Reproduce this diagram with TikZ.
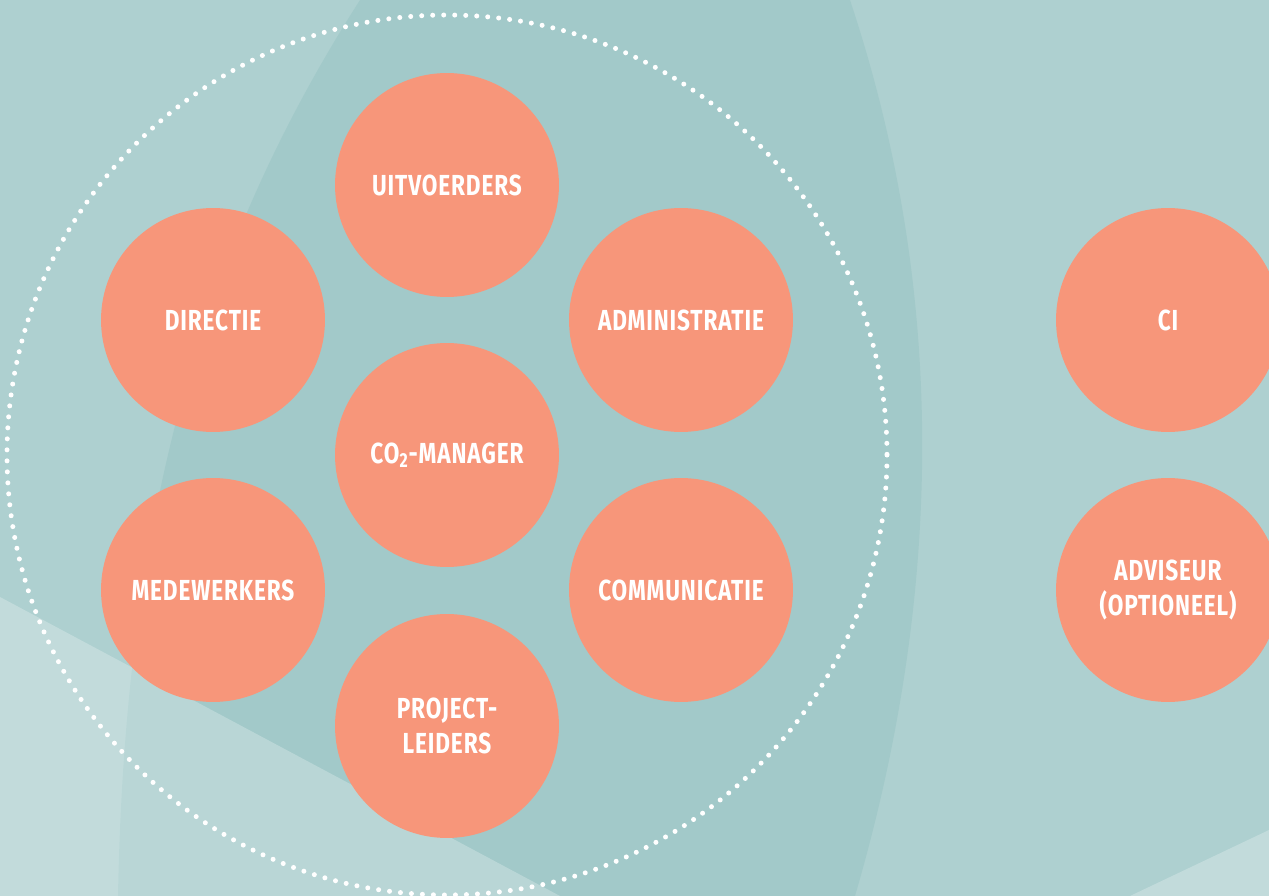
\documentclass[tikz,border=0pt]{standalone}
\usepackage{fontspec}
\setmainfont{Fira Sans}[FakeStretch=0.78, LetterSpace=3]
\usetikzlibrary{calc}

\definecolor{fond}{RGB}{174,208,208}
\definecolor{fondsombre}{RGB}{152,195,195}
\definecolor{saumon}{HTML}{F7967A}

\tikzset{rond/.style={circle, fill=saumon, minimum size=4.48cm, inner sep=0pt,
  align=center, text=white, font=\bfseries\fontsize{16.5}{19.6}\selectfont}}

\begin{document}
\begin{tikzpicture}[x=0.02cm, y=-0.02cm]
\useasboundingbox (0,0) rectangle (1269,896);

%fond
\fill[fond] (0,0) rectangle (1269,896);
\fill[fondsombre, opacity=0.5] (360,0) .. controls (200,250) and (125,520) .. (118,896)
  -- (855,896) .. controls (930,640) and (960,330) .. (850,0) -- cycle;
\fill[white, opacity=0.25] (0,597) -- (560,896) -- (0,896) -- cycle;
\fill[white, opacity=0.25] (1130,896) -- (1269,830) -- (1269,896) -- cycle;

%cercle pointille
\coordinate (centre) at (447,455);
\draw[white, line width=2.85pt, line cap=round, dash pattern=on 0pt off 0.2203cm]
  (centre) circle (440);

%ronds
\node[rond] (uitvoerders) at (447,185) {UITVOERDERS};
\node[rond] (directie) at (213,320) {DIRECTIE};
\node[rond] (administratie) at (681,320) {ADMINISTRATIE};
\node[rond] (manager) at (centre) {CO\textsubscript{2}-MANAGER};
\node[rond] (medewerkers) at (213,590) {MEDEWERKERS};
\node[rond] (communicatie) at (681,590) {COMMUNICATIE};
\node[rond] (projectleiders) at (447,726) {PROJECT-\\LEIDERS};

\node[rond] (ci) at (1168,320) {CI};
\node[rond] (adviseur) at (1168,590) {ADVISEUR\\(OPTIONEEL)};

\end{tikzpicture}
\end{document}
